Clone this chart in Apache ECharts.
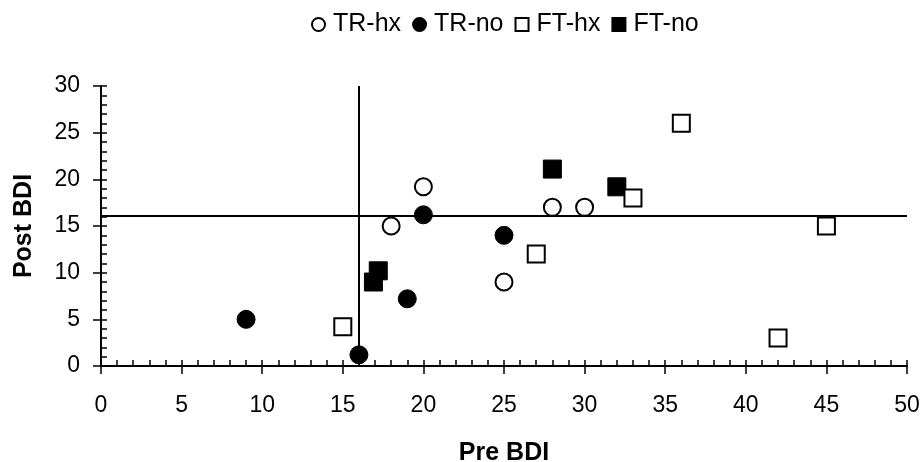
<!DOCTYPE html>
<html>
<head>
<meta charset="utf-8">
<script src="https://cdn.jsdelivr.net/npm/echarts@6/dist/echarts.min.js"></script>
<style>
  html, body { margin: 0; padding: 0; background: #fff; }
  #chart { width: 924px; height: 462px; }
</style>
</head>
<body>
<div id="chart"></div>
<script>
// Pre BDI (x) / Post BDI (y) per group
const trHxX = [18, 20, 25, 28, 30];
const trHxY = [15, 19.2, 9, 17, 17];
const trNoX = [9, 16, 19, 20, 25];
const trNoY = [5, 1.2, 7.2, 16.2, 14];
const ftHxX = [15, 27, 33, 36, 42, 45];
const ftHxY = [4.2, 12, 18, 26, 3, 15];
const ftNoX = [16.9, 17.2, 28, 32];
const ftNoY = [9, 10.2, 21.1, 19.2];

const groupNames = ["TR-hx", "TR-no", "FT-hx", "FT-no"];
const cutX = 16;   // vertical cut-off
const cutY = 16.1; // horizontal cut-off

const FONT = "Liberation Sans, Arial, sans-serif";
const FS = 23;      // tick labels
const FS_NAME = 25; // axis titles + legend

function pairs(xs, ys) {
  return xs.map((x, i) => [x, ys[i]]);
}

const chart = echarts.init(document.getElementById("chart"));

const mainX = {
  type: "value",
  min: 0, max: 50, interval: 5,
  position: "bottom",
  axisLine: { show: true, onZero: false, lineStyle: { color: "#000", width: 2 } },
  axisTick: { show: true, inside: true, length: 6, lineStyle: { color: "#000", width: 1.5 } },
  minorTick: { show: true, splitNumber: 5, length: 6, lineStyle: { color: "#000", width: 1.5 } },
  splitLine: { show: false },
  axisLabel: { color: "#000", fontSize: FS, fontFamily: FONT, margin: 28 },
  name: "Pre BDI",
  nameLocation: "middle",
  nameGap: 75,
  nameTextStyle: { color: "#000", fontSize: FS_NAME, fontWeight: "bold", fontFamily: FONT },
};
const mainY = {
  type: "value",
  min: 0, max: 30, interval: 5,
  position: "left",
  axisLine: { show: true, onZero: false, lineStyle: { color: "#000", width: 2 } },
  axisTick: { show: true, inside: true, length: 6, lineStyle: { color: "#000", width: 1.5 } },
  minorTick: { show: true, splitNumber: 5, length: 6, lineStyle: { color: "#000", width: 1.5 } },
  splitLine: { show: false },
  axisLabel: { color: "#000", fontSize: FS, fontFamily: FONT, margin: 21 },
  name: "Post BDI",
  nameLocation: "middle",
  nameGap: 64,
  nameTextStyle: { color: "#000", fontSize: FS_NAME, fontWeight: "bold", fontFamily: FONT },
};
// second pair of axes only adds the outer half of the major ticks
const outerX = {
  type: "value", min: 0, max: 50, interval: 5, position: "bottom",
  axisLine: { show: false, onZero: false },
  axisTick: { show: true, inside: false, length: 8, lineStyle: { color: "#000", width: 1.5 } },
  axisLabel: { show: false },
  splitLine: { show: false },
};
const outerY = {
  type: "value", min: 0, max: 30, interval: 5, position: "left",
  axisLine: { show: false, onZero: false },
  axisTick: { show: true, inside: false, length: 8, lineStyle: { color: "#000", width: 1.5 } },
  axisLabel: { show: false },
  splitLine: { show: false },
};

const openStyle = { color: "#fff", borderColor: "#000", borderWidth: 2, opacity: 1 };
const filledStyle = { color: "#000", borderColor: "#000", borderWidth: 1, opacity: 1 };

chart.setOption({
  animation: false,
  backgroundColor: "#fff",
  legend: {
    top: 7,
    left: 306,
    itemGap: 11,
    itemWidth: 13,
    itemHeight: 13,
    textStyle: { color: "#000", fontSize: FS_NAME, fontFamily: FONT, padding: [0, 0, 16, 3] },
    data: [
      { name: groupNames[0], icon: "circle" },
      { name: groupNames[1], icon: "circle" },
      { name: groupNames[2], icon: "rect" },
      { name: groupNames[3], icon: "rect" },
    ],
  },
  grid: { left: 101, right: 17, top: 86, bottom: 96, outerBoundsMode: "none" },
  xAxis: [mainX, outerX],
  yAxis: [mainY, outerY],
  series: [
    {
      type: "scatter",
      name: "cutoffs",
      z: 1,
      data: [],
      markLine: {
        silent: true,
        symbol: "none",
        label: { show: false },
        lineStyle: { color: "#000", width: 2, type: "solid" },
        data: [
          [{ coord: [cutX, 0] }, { coord: [cutX, 30] }],
          [{ coord: [0, cutY] }, { coord: [50, cutY] }],
        ],
      },
    },
    {
      name: groupNames[0], type: "scatter", z: 3,
      symbol: "circle", symbolSize: 17,
      itemStyle: openStyle,
      data: pairs(trHxX, trHxY),
    },
    {
      name: groupNames[1], type: "scatter", z: 3,
      symbol: "circle", symbolSize: 18,
      itemStyle: filledStyle,
      data: pairs(trNoX, trNoY),
    },
    {
      name: groupNames[3], type: "scatter", z: 3,
      symbol: "rect", symbolSize: 18,
      itemStyle: filledStyle,
      data: pairs(ftNoX, ftNoY),
    },
    {
      name: groupNames[2], type: "scatter", z: 3,
      symbol: "rect", symbolSize: 17,
      itemStyle: openStyle,
      data: pairs(ftHxX, ftHxY),
    },
  ],
});
</script>
</body>
</html>
